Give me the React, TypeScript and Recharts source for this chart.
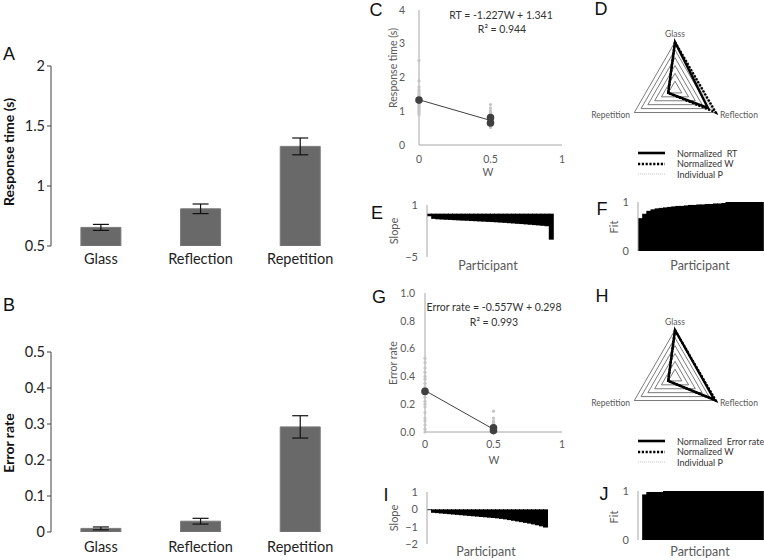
import {
  BarChart,
  Bar,
  XAxis,
  YAxis,
  ErrorBar,
  ScatterChart,
  Scatter,
  RadarChart,
  Radar,
  PolarGrid,
  PolarAngleAxis,
  PolarRadiusAxis,
} from "recharts";

// panel A / B
const conditions = ["Glass", "Reflection", "Repetition"];
const rtMean = [0.655, 0.81, 1.33];
const rtSem = [0.025, 0.04, 0.07];
const errMean = [0.01, 0.03, 0.292];
const errSem = [0.004, 0.008, 0.031];

// panel C / G  (W per condition, individual participants)
const condW = [0.5, 0.5, 0];
const rtGlassP = [0.52, 0.55, 0.57, 0.58, 0.6, 0.61, 0.62, 0.63, 0.64, 0.65, 0.66, 0.67, 0.68, 0.69, 0.7, 0.72, 0.74, 0.76, 0.8, 0.88];
const rtReflP = [0.58, 0.62, 0.65, 0.68, 0.7, 0.72, 0.74, 0.76, 0.78, 0.8, 0.82, 0.84, 0.86, 0.88, 0.9, 0.93, 0.97, 1.02, 1.1, 1.2];
const rtRepP = [0.9, 0.95, 1.0, 1.05, 1.1, 1.14, 1.18, 1.22, 1.26, 1.3, 1.34, 1.38, 1.42, 1.47, 1.52, 1.58, 1.64, 1.72, 1.9, 2.5];
const errGlassP = [0, 0, 0, 0, 0, 0, 0, 0.005, 0.01, 0.01, 0.01, 0.015, 0.02, 0.02, 0.02, 0.025, 0.03, 0.03, 0.04, 0.05];
const errReflP = [0, 0, 0.005, 0.01, 0.01, 0.015, 0.02, 0.02, 0.025, 0.03, 0.03, 0.035, 0.04, 0.045, 0.05, 0.06, 0.07, 0.08, 0.1, 0.15];
const errRepP = [0, 0.02, 0.05, 0.08, 0.1, 0.14, 0.18, 0.2, 0.22, 0.25, 0.28, 0.3, 0.32, 0.35, 0.38, 0.4, 0.43, 0.46, 0.5, 0.53];
const trendW = [0, 0.5];
const rtTrend = [1.341, 0.728];
const errTrend = [0.298, 0.02];

// panel D / H
const radarAxes = ["Glass", "Reflection", "Repetition"];
const radarDomain = [-0.2, 1];
const radarRings = [0, 0.2, 0.4, 0.6, 0.8, 1];
const normRT = [1, 0.77, 0];
const normErr = [1, 0.96, 0];
const normW = [1, 1, 0];
const indivRT = [
  [1, 0.8, 0],
  [1, 0.85, 0],
  [1, 0.89, 0],
  [1, 0.93, 0],
  [1, 0.96, 0],
];
const indivErr = [
  [1, 0.97, 0],
  [1, 0.98, 0],
  [1, 0.99, 0],
];

// panel E / F / I / J  (sorted per participant)
const slopeRT = [-0.3, -0.6, -0.65, -0.68, -0.7, -0.72, -0.75, -0.78, -0.8, -0.82, -0.85, -0.87, -0.9, -0.92, -0.95, -0.97, -1.0, -1.03, -1.06, -1.1, -1.13, -1.17, -1.2, -1.24, -1.28, -1.32, -1.36, -1.4, -1.45, -3.0];
const fitRT = [0.67, 0.76, 0.82, 0.85, 0.87, 0.88, 0.89, 0.9, 0.91, 0.92, 0.92, 0.93, 0.94, 0.94, 0.95, 0.95, 0.96, 0.96, 0.97, 0.97, 0.98, 1, 1, 1, 1, 1, 1, 1, 1, 1];
const slopeErr = [-0.05, -0.2, -0.22, -0.24, -0.26, -0.28, -0.3, -0.32, -0.34, -0.36, -0.38, -0.4, -0.42, -0.44, -0.46, -0.48, -0.5, -0.52, -0.55, -0.58, -0.62, -0.66, -0.7, -0.74, -0.78, -0.82, -0.87, -0.92, -0.98, -1.05];
const fitErr = [0, 0.93, 0.98, 0.98, 0.98, 0.98, 1, 1, 1, 1, 1, 1, 1, 1, 1, 1, 1, 1, 1, 1, 1, 1, 1, 1, 1, 1, 1, 1, 1, 1];

const FONT = "Lato, 'Open Sans', sans-serif";
const GREY = "#595959";
const AXIS = "#a6a6a6";

const minus = (v: number) => (v < 0 ? "\u2212" + Math.abs(v) : String(v));
const emptyTick = () => <g />;

function Txt({ x, y, children, size = 11, color = GREY, rot = false, weight = 400, family = FONT }: any) {
  return (
    <div
      style={{
        position: "absolute",
        left: x,
        top: y,
        transform: `translate(-50%,-50%)${rot ? " rotate(-90deg)" : ""}`,
        fontSize: size,
        color,
        fontWeight: weight,
        fontFamily: family,
        whiteSpace: "nowrap",
        lineHeight: 1,
      }}
    >
      {children}
    </div>
  );
}

function Letter({ x, y, t }: any) {
  return (
    <Txt x={x} y={y} size={18} color="#111" family="'Liberation Sans', Arial, sans-serif">
      {t}
    </Txt>
  );
}

function CondBars({ top, height, mt, xh, means, sems, domain, ticks, fmt, tm }: any) {
  const data = conditions.map((c, i) => ({ cond: c, v: means[i], e: sems[i] }));
  return (
    <div style={{ position: "absolute", left: 0, top }}>
      <BarChart width={360} height={height} data={data} margin={{ top: mt, right: 10, bottom: 0, left: 0 }} barCategoryGap="30%">
        <XAxis xAxisId="edge" type="number" domain={[0, 3]} ticks={[0, 1, 2, 3]} allowDataOverflow tick={emptyTick} tickLine={{ stroke: "#404040" }} tickSize={4} height={0} stroke="#404040" />
        <XAxis dataKey="cond" axisLine={false} tickLine={false} tickSize={0} tickMargin={tm} height={xh} tick={{ fill: "#222", fontSize: 14.5, fontFamily: FONT }} />
        <YAxis
          width={51}
          domain={domain}
          ticks={ticks}
          allowDataOverflow
          tickSize={4}
          tickMargin={2}
          stroke="#404040"
          tick={{ fill: "#222", fontSize: 14.5, fontFamily: FONT }}
          tickFormatter={fmt}
        />
        <Bar dataKey="v" fill="#696969" stroke="#7a7a7a" isAnimationActive={false}>
          <ErrorBar dataKey="e" width={8} stroke="#111" strokeWidth={1.2} />
        </Bar>
      </BarChart>
    </div>
  );
}

const dot = (r: number, fill: string) => (p: any) => <circle cx={p.cx} cy={p.cy} r={r} fill={fill} />;

function WScatter({ top, height, mt, xh, yw, glassP, reflP, repP, means, trend, domain, ticks, yfmt, xtm, ytm }: any) {
  const pts = (arr: number[], i: number) => arr.map((y) => ({ w: condW[i], y }));
  const meanPts = means.map((y: number, i: number) => ({ w: condW[i], y }));
  const trendPts = trendW.map((w, i) => ({ w, y: trend[i] }));
  return (
    <div style={{ position: "absolute", left: 370, top }}>
      <ScatterChart width={200} height={height} margin={{ top: mt, right: 8, bottom: 0, left: 0 }}>
        <XAxis type="number" dataKey="w" domain={[0, 1]} ticks={[0, 0.5, 1]} height={xh} tickLine={false} tickSize={0} tickMargin={xtm} stroke={AXIS} tick={{ fill: GREY, fontSize: 10.5, fontFamily: FONT }} />
        <YAxis type="number" dataKey="y" domain={domain} ticks={ticks} width={yw} tickLine={false} tickSize={0} tickMargin={ytm} stroke={AXIS} tick={{ fill: GREY, fontSize: 10.5, fontFamily: FONT }} tickFormatter={yfmt} />
        <Scatter data={pts(repP, 2)} shape={dot(1.6, "#c4c4c4")} isAnimationActive={false} />
        <Scatter data={pts(glassP, 0)} shape={dot(1.6, "#c4c4c4")} isAnimationActive={false} />
        <Scatter data={pts(reflP, 1)} shape={dot(1.6, "#c4c4c4")} isAnimationActive={false} />
        <Scatter data={trendPts} line={{ stroke: "#404040", strokeWidth: 1 }} shape={emptyTick} isAnimationActive={false} />
        <Scatter data={meanPts} shape={dot(3.8, "#404040")} isAnimationActive={false} />
      </ScatterChart>
    </div>
  );
}

const R = 47;

function Tri({ top, main, indiv }: any) {
  const data = radarAxes.map((a, i) => {
    const row: any = { axis: a, main: main[i], w: normW[i] };
    indiv.forEach((p: number[], k: number) => (row["p" + k] = p[i]));
    return row;
  });
  const ringRadii = radarRings.map((v) => ((v - radarDomain[0]) / (radarDomain[1] - radarDomain[0])) * R);
  return (
    <div style={{ position: "absolute", left: 590, top }}>
      <RadarChart width={170} height={130} data={data} cx={85} cy={69} outerRadius={R} startAngle={90} endAngle={-270} margin={{ top: 0, right: 0, bottom: 0, left: 0 }}>
        <PolarGrid gridType="polygon" radialLines={false} polarRadius={ringRadii} stroke="#595959" strokeWidth={0.8} />
        <PolarAngleAxis dataKey="axis" axisLine={false} tickLine={false} tickSize={5} tick={{ fontSize: 8.5, fill: GREY, fontFamily: FONT }} />
        <PolarRadiusAxis domain={radarDomain} tick={false} axisLine={false} />
        {indiv.map((_: any, k: number) => (
          <Radar key={k} dataKey={"p" + k} stroke="#9a9a9a" strokeWidth={0.6} strokeDasharray="1 1" fill="none" fillOpacity={0} isAnimationActive={false} />
        ))}
        <Radar dataKey="main" stroke="#000" strokeWidth={2.4} fill="none" fillOpacity={0} isAnimationActive={false} />
        <Radar dataKey="w" stroke="#000" strokeWidth={2.4} strokeDasharray="2 1.5" fill="none" fillOpacity={0} isAnimationActive={false} />
      </RadarChart>
    </div>
  );
}

function TriLegend({ top, first }: any) {
  const rows = [
    { t: first, w: 2.6, d: undefined, c: "#000" },
    { t: "Normalized W", w: 2.6, d: "2.2 1.6", c: "#000" },
    { t: "Individual P", w: 0.6, d: "1 1", c: "#9a9a9a" },
  ];
  return (
    <div style={{ position: "absolute", left: 636, top, fontFamily: FONT, fontSize: 9, color: "#333" }}>
      {rows.map((r, i) => (
        <div key={i} style={{ display: "flex", alignItems: "center", height: 10.5 }}>
          <svg width={30} height={6}>
            <line x1={2} x2={29} y1={3} y2={3} stroke={r.c} strokeWidth={r.w} strokeDasharray={r.d} />
          </svg>
          <span style={{ marginLeft: 11, whiteSpace: "pre" }}>{r.t}</span>
        </div>
      ))}
    </div>
  );
}

// solid black column; widened slightly so neighbouring columns join without seams
const solidBar = (p: any) => {
  if (!p.height) return <g />;
  const y = Math.min(p.y, p.y + p.height);
  return <rect x={p.x} y={y} width={p.width + 1} height={Math.abs(p.height)} fill="#000" />;
};

function Sorted({ left, top, width, height, margin, yw, values, domain, ticks, ytm, box }: any) {
  const data = values.map((v: number, i: number) => ({ p: i + 1, v }));
  return (
    <div style={{ position: "absolute", left, top }}>
      <BarChart width={width} height={height} data={data} margin={margin} barCategoryGap={0} barGap={0}>
        <XAxis dataKey="p" height={0} tick={false} tickLine={false} axisLine={box ? { stroke: AXIS } : false} />
        {box && <XAxis xAxisId="top" orientation="top" dataKey="p" height={0} tick={false} tickLine={false} stroke={AXIS} />}
        <YAxis
          width={yw}
          domain={domain}
          ticks={ticks}
          allowDataOverflow
          tickLine={false}
          tickSize={0}
          tickMargin={ytm}
          stroke={AXIS}
          tick={{ fill: GREY, fontSize: 11, fontFamily: FONT }}
          tickFormatter={minus}
        />
        {box && <YAxis yAxisId="r" orientation="right" width={0} domain={domain} tick={false} tickLine={false} stroke={AXIS} />}
        <Bar dataKey="v" fill="#000" shape={solidBar} isAnimationActive={false} />
      </BarChart>
    </div>
  );
}

export default function App() {
  return (
    <div style={{ position: "absolute", left: 0, top: 0, width: 764, height: 560, background: "#fff", overflow: "hidden", fontFamily: FONT }}>
      {/* A */}
      <CondBars top={0} height={280} mt={66} xh={34} means={rtMean} sems={rtSem} domain={[0.5, 2]} ticks={[0.5, 1, 1.5, 2]} fmt={(v: number) => String(v)} tm={8} />
      <Letter x={9} y={54} t="A" />
      <Txt x={9} y={152} size={14} weight={700} color="#111" rot>
        Response time (s)
      </Txt>

      {/* B */}
      <CondBars top={270} height={290} mt={82} xh={28} means={errMean} sems={errSem} domain={[0, 0.5]} ticks={[0, 0.1, 0.2, 0.3, 0.4, 0.5]} fmt={(v: number) => (v === 0 ? "0" : v.toFixed(1))} tm={10} />
      <Letter x={9} y={305} t="B" />
      <Txt x={9} y={443} size={14} weight={700} color="#111" rot>
        Error rate
      </Txt>

      {/* C */}
      <WScatter top={0} height={190} mt={10} xh={45} yw={49} glassP={rtGlassP} reflP={rtReflP} repP={rtRepP} means={rtMean} trend={rtTrend} domain={[0, 4]} ticks={[0, 1, 2, 3, 4]} yfmt={(v: number) => String(v)} xtm={11} ytm={14} />
      <Letter x={376} y={10} t="C" />
      <Txt x={393} y={68} size={10.5} rot>
        Response time (s)
      </Txt>
      <Txt x={488} y={172} size={10.5}>
        W
      </Txt>
      <Txt x={501} y={15} size={10.5} color="#333">
        RT = -1.227W + 1.341
      </Txt>
      <Txt x={502} y={29} size={10.5} color="#333">
        R² = 0.944
      </Txt>

      {/* D */}
      <Tri top={20} main={normRT} indiv={indivRT} />
      <Letter x={601} y={9} t="D" />
      <TriLegend top={148} first="Normalized  RT" />

      {/* E */}
      <Sorted left={370} top={195} width={190} height={80} margin={{ top: 10, right: 7, bottom: 18, left: 0 }} yw={57} values={slopeRT} domain={[-5, 1]} ticks={[-5, 1]} ytm={9} />
      <Letter x={377} y={213} t="E" />
      <Txt x={393} y={231} size={11} rot>
        Slope
      </Txt>
      <Txt x={488} y={266} size={12.5}>
        Participant
      </Txt>

      {/* F */}
      <Sorted left={600} top={195} width={164} height={65} margin={{ top: 7, right: 1, bottom: 9, left: 0 }} yw={38} values={fitRT} domain={[0, 1]} ticks={[0, 1]} ytm={9} box />
      <Letter x={602} y={209} t="F" />
      <Txt x={613} y={227} size={11} rot>
        Fit
      </Txt>
      <Txt x={700} y={266} size={12.5}>
        Participant
      </Txt>

      {/* G */}
      <WScatter top={270} height={200} mt={23} xh={38} yw={55} glassP={errGlassP} reflP={errReflP} repP={errRepP} means={errMean} trend={errTrend} domain={[0, 1]} ticks={[0, 0.2, 0.4, 0.6, 0.8, 1]} yfmt={(v: number) => v.toFixed(1)} xtm={9} ytm={10} />
      <Letter x={379} y={297} t="G" />
      <Txt x={393} y={363} size={10.5} rot>
        Error rate
      </Txt>
      <Txt x={494} y={460} size={10.5}>
        W
      </Txt>
      <Txt x={494} y={307} size={10.5} color="#333">
        Error rate = -0.557W + 0.298
      </Txt>
      <Txt x={494} y={322} size={10.5} color="#333">
        R² = 0.993
      </Txt>

      {/* H */}
      <Tri top={308} main={normErr} indiv={indivErr} />
      <Letter x={602} y={296} t="H" />
      <TriLegend top={436} first="Normalized  Error rate" />

      {/* I */}
      <Sorted left={370} top={485} width={190} height={65} margin={{ top: 7, right: 13, bottom: 6, left: 0 }} yw={57} values={slopeErr} domain={[-2, 1]} ticks={[-2, -1, 0, 1]} ytm={9} />
      <Letter x={386} y={495} t="I" />
      <Txt x={393} y={518} size={11} rot>
        Slope
      </Txt>
      <Txt x={486} y={552} size={12.5}>
        Participant
      </Txt>

      {/* J */}
      <Sorted left={600} top={484} width={164} height={65} margin={{ top: 7, right: 1, bottom: 9, left: 0 }} yw={38} values={fitErr} domain={[0, 1]} ticks={[0, 1]} ytm={9} box />
      <Letter x={604} y={494} t="J" />
      <Txt x={613} y={517} size={11} rot>
        Fit
      </Txt>
      <Txt x={700} y={552} size={12.5}>
        Participant
      </Txt>
    </div>
  );
}
